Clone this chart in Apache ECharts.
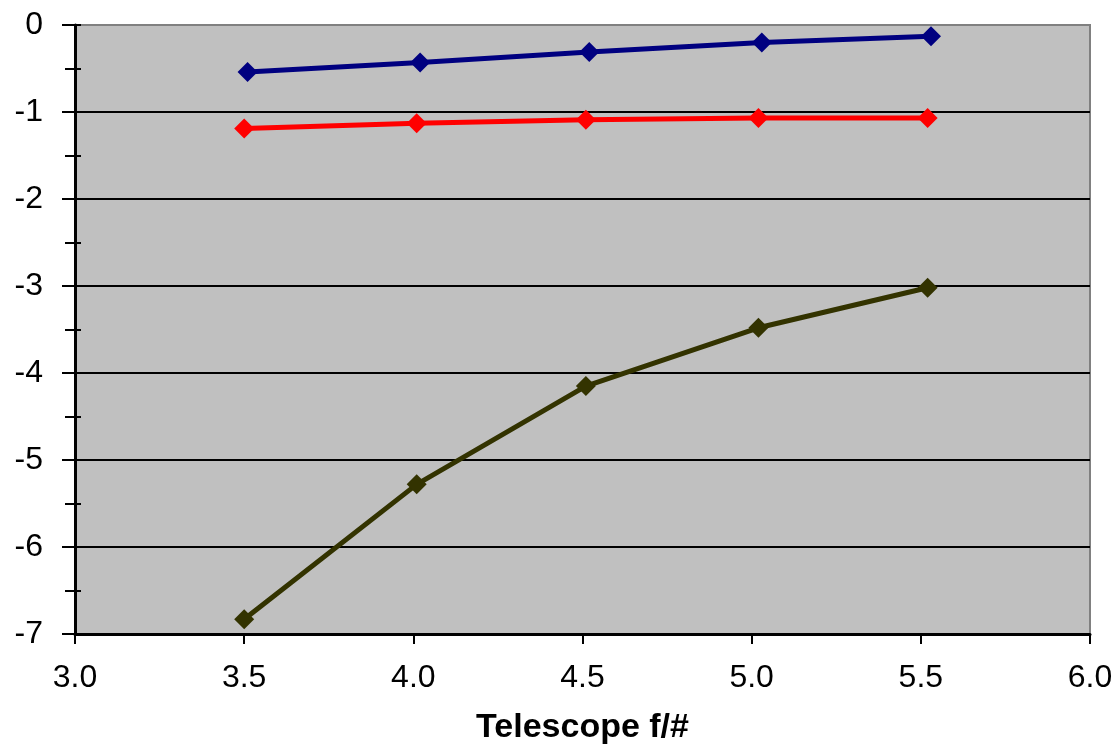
<!DOCTYPE html>
<html>
<head>
<meta charset="utf-8">
<script src="https://cdn.jsdelivr.net/npm/echarts@6/dist/echarts.min.js"></script>
<style>
html,body{margin:0;padding:0;background:#fff;}
#c{width:1115px;height:745px;}
</style>
</head>
<body>
<div id="c"></div>
<script>
// Data
const xAxisTitle = 'Telescope f/#';
const xTicks = [3.0, 3.5, 4.0, 4.5, 5.0, 5.5, 6.0];
const yTicks = [0, -1, -2, -3, -4, -5, -6, -7];

const blueX = [3.51, 4.02, 4.52, 5.03, 5.53];
const blueY = [-0.54, -0.43, -0.31, -0.20, -0.13];

const redX = [3.50, 4.01, 4.51, 5.02, 5.52];
const redY = [-1.19, -1.13, -1.09, -1.07, -1.07];

const darkX = [3.50, 4.01, 4.51, 5.02, 5.52];
const darkY = [-6.83, -5.28, -4.15, -3.48, -3.02];

const pairs = (xs, ys) => xs.map((x, i) => [x, ys[i]]);
const FONT = '"Liberation Sans", Arial, sans-serif';

const chart = echarts.init(document.getElementById('c'), null, {renderer: 'canvas'});

function series(name, xs, ys, color) {
  return {
    name: name,
    type: 'line',
    data: pairs(xs, ys),
    symbol: 'diamond',
    symbolSize: 20,
    showAllSymbol: true,
    lineStyle: {color: color, width: 5},
    itemStyle: {color: color},
    emphasis: {disabled: true},
    animation: false
  };
}

chart.setOption({
  animation: false,
  grid: {
    left: 75, top: 25, right: 25, bottom: 111,
    outerBoundsMode: 'none',
    containLabel: false,
    show: true,
    backgroundColor: '#c0c0c0',
    borderColor: '#808080',
    borderWidth: 2
  },
  xAxis: {
    type: 'value',
    min: xTicks[0],
    max: xTicks[xTicks.length - 1],
    interval: 0.5,
    name: xAxisTitle,
    nameLocation: 'middle',
    nameGap: 77,
    nameTextStyle: {fontFamily: FONT, fontSize: 34, fontWeight: 'bold', color: '#000'},
    axisLine: {show: true, onZero: false, lineStyle: {color: '#000', width: 3}},
    axisTick: {show: true, length: 10, lineStyle: {color: '#000', width: 2}},
    axisLabel: {
      fontFamily: FONT, fontSize: 32, color: '#000', margin: 28,
      formatter: v => v.toFixed(1)
    },
    splitLine: {show: false}
  },
  yAxis: [{
    type: 'value',
    min: yTicks[yTicks.length - 1],
    max: yTicks[0],
    interval: 1,
    position: 'left',
    axisLine: {show: true, onZero: false, lineStyle: {color: '#000', width: 3}},
    axisTick: {show: true, length: 13, lineStyle: {color: '#000', width: 2}},
    minorTick: {show: true, splitNumber: 2, length: 10, lineStyle: {color: '#000', width: 2}},
    axisLabel: {fontFamily: FONT, fontSize: 32, color: '#000', margin: 32},
    splitLine: {show: true, showMaxLine: false, showMinLine: false, lineStyle: {color: '#000', width: 2}}
  }, {
    type: 'value',
    min: yTicks[yTicks.length - 1],
    max: yTicks[0],
    interval: 1,
    position: 'left',
    offset: 0,
    axisLine: {show: false},
    axisTick: {show: true, inside: true, length: 6, lineStyle: {color: '#000', width: 2}},
    minorTick: {show: true, splitNumber: 2, length: 6, lineStyle: {color: '#000', width: 2}},
    axisLabel: {show: false},
    splitLine: {show: false}
  }],
  series: [
    series('blue', blueX, blueY, '#000080'),
    series('red', redX, redY, '#ff0000'),
    series('dark', darkX, darkY, '#333300')
  ]
});
</script>
</body>
</html>
